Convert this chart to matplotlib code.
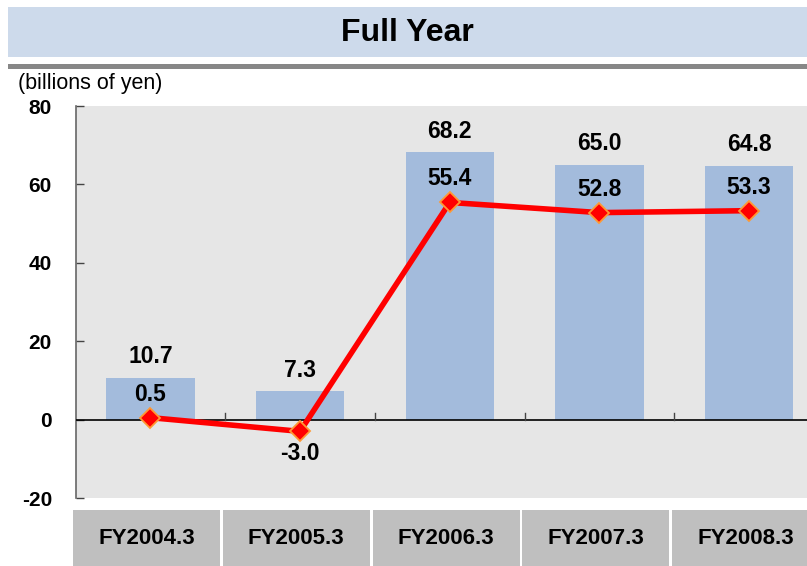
import matplotlib.pyplot as plt
from matplotlib.patches import Rectangle

plt.rcParams["font.family"] = ["Liberation Sans", "DejaVu Sans"]
plt.rcParams["axes.unicode_minus"] = False

categories = ["FY2004.3", "FY2005.3", "FY2006.3", "FY2007.3", "FY2008.3"]
bar_values = [10.7, 7.3, 68.2, 65.0, 64.8]
line_values = [0.5, -3.0, 55.4, 52.8, 53.3]
y_ticks = [-20, 0, 20, 40, 60, 80]

W, H = 807, 566
fig = plt.figure(figsize=(W / 100, H / 100), dpi=100)
fig.patch.set_facecolor("white")


def px_box(x0, y0, x1, y1):
    # pixel box (top-left origin) -> figure fraction [l, b, w, h]
    return [x0 / W, 1 - y1 / H, (x1 - x0) / W, (y1 - y0) / H]


# title band and rule
fig.add_artist(Rectangle((8 / W, 1 - 57 / H), 1, 50 / H, transform=fig.transFigure,
                         facecolor="#CDDAEB", edgecolor="none"))
fig.add_artist(Rectangle((8 / W, 1 - 69 / H), 1, 5 / H, transform=fig.transFigure,
                         facecolor="#878787", edgecolor="none"))
fig.text(407 / W, 1 - 33 / H, "Full Year", ha="center", va="center",
         fontsize=23, fontweight="bold", color="black")
fig.text(18 / W, 1 - 84 / H, "(billions of yen)", ha="left", va="center",
         fontsize=15.5, color="black")

step = 149.7
left = 75.5
x_span = (W - left) / step

ax = fig.add_axes(px_box(left, 106, W, 498))
ax.set_facecolor("#E6E6E6")
ax.set_xlim(-0.5, -0.5 + x_span)
ax.set_ylim(-20, 80)

x = list(range(len(categories)))
ax.bar(x, bar_values, width=0.59, color="#A3BBDC", zorder=2)
ax.axhline(0, color="black", linewidth=1.2, zorder=3)
for b in range(1, len(categories)):
    ax.plot([b - 0.5, b - 0.5], [0, 1.6], color="#444444", linewidth=1, zorder=3)

ax.plot(x, line_values, color="#FF0000", linewidth=4, marker="D", markersize=10,
        markerfacecolor="#FF0000", markeredgecolor="#FF9933", markeredgewidth=1.3, zorder=4)

for xi, v in zip(x, bar_values):
    ax.annotate(f"{v:.1f}", (xi, v), xytext=(0, 15), textcoords="offset points",
                ha="center", va="center", fontsize=16.5, fontweight="bold")
for xi, v in zip(x, line_values):
    dy = -16 if v < 0 else 17
    ax.annotate(f"{v:.1f}", (xi, v), xytext=(0, dy), textcoords="offset points",
                ha="center", va="center", fontsize=16.5, fontweight="bold", zorder=5)

for s in ["top", "right", "bottom"]:
    ax.spines[s].set_visible(False)
ax.spines["left"].set_color("#666666")
ax.spines["left"].set_linewidth(1.2)
ax.set_xticks([])
ax.set_yticks(y_ticks)
ax.tick_params(axis="y", direction="in", length=6, width=1, color="#444444",
               labelsize=15, pad=17)
for lab in ax.get_yticklabels():
    lab.set_fontweight("bold")

# category strip
cax = fig.add_axes(px_box(left, 510, W, H))
cax.set_xlim(-0.5, -0.5 + x_span)
cax.set_ylim(0, 1)
cax.axis("off")
cax.bar([xi - 0.025 for xi in x], [1] * len(x), width=0.982, bottom=0,
        color="#BFBFBF", clip_on=False)
for xi, c in zip(x, categories):
    cax.text(xi - 0.025, 0.5, c, ha="center", va="center", fontsize=16, fontweight="bold")

fig.savefig("out.png", dpi=100)
